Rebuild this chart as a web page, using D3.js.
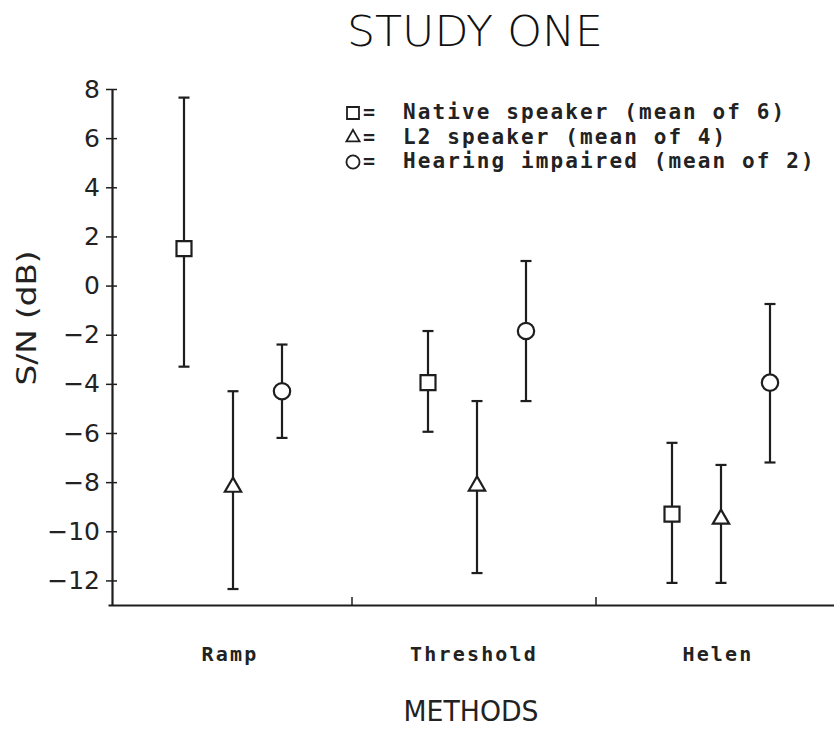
<!DOCTYPE html>
<html>
<head>
<meta charset="utf-8">
<script src="https://cdn.jsdelivr.net/npm/d3@7"></script>
<style>
  body { margin: 0; background: #fff; }
  text { fill: #222; }
</style>
</head>
<body>
<script>
let width = 834;
let height = 729;

// data
let categories = ["Ramp", "Threshold", "Helen"];
let groups = ["native", "l2", "hi"];
let groupLabels = ["Native speaker (mean of 6)", "L2 speaker (mean of 4)", "Hearing impaired (mean of 2)"];
let yTicks = [-12, -10, -8, -6, -4, -2, 0, 2, 4, 6, 8];

let nativeMean = [1.5, -3.95, -9.3];
let nativeLow  = [-3.3, -5.95, -12.1];
let nativeHigh = [7.65, -1.85, -6.4];

let l2Mean = [-8.2, -8.15, -9.5];
let l2Low  = [-12.35, -11.7, -12.1];
let l2High = [-4.3, -4.7, -7.3];

let hiMean = [-4.3, -1.85, -3.95];
let hiLow  = [-6.2, -4.7, -7.2];
let hiHigh = [-2.4, 1.0, -0.75];

let series = [
  {key: "native", mean: nativeMean, low: nativeLow, high: nativeHigh, sym: d3.symbolSquare, size: 225},
  {key: "l2", mean: l2Mean, low: l2Low, high: l2High, sym: d3.symbolTriangle, size: 115},
  {key: "hi", mean: hiMean, low: hiLow, high: hiHigh, sym: d3.symbolCircle, size: 210}
];

let ink = "#1e1e1e";

let svg = d3.select("body").append("svg").attr("width", width).attr("height", height);

let x = d3.scaleBand().domain(categories).range([108, 840]);
let sub = d3.scalePoint().domain(groups).range([-46, 52]);
let y = d3.scaleLinear().domain([-13, 8]).range([605, 89]);

// title
svg.append("text")
  .attr("x", 475).attr("y", 46)
  .attr("text-anchor", "middle")
  .attr("font-family", "DejaVu Sans").attr("font-weight", 300).attr("font-size", 43)
  .attr("textLength", 256).attr("lengthAdjust", "spacingAndGlyphs")
  .style("fill", "#111")
  .text("STUDY ONE");

// y axis
let yAxis = svg.append("g").attr("transform", "translate(112,0)")
  .call(d3.axisLeft(y).tickValues(yTicks).tickSize(6).tickSizeOuter(0).tickPadding(6));
yAxis.selectAll("text").attr("font-family", "DejaVu Sans").attr("font-size", 25).attr("fill", "#222");
yAxis.selectAll("line").attr("stroke", ink).attr("stroke-width", 1.5);
yAxis.select(".domain").attr("stroke", ink).attr("stroke-width", 2.2);

let yAxisR = svg.append("g").attr("transform", "translate(112,0)")
  .call(d3.axisRight(y).tickValues(yTicks).tickSize(5).tickFormat(""));
yAxisR.select(".domain").remove();
yAxisR.selectAll("line").attr("stroke", ink).attr("stroke-width", 1.5);

svg.append("text")
  .attr("transform", "translate(36,318) rotate(-90)")
  .attr("text-anchor", "middle")
  .attr("font-family", "DejaVu Sans").attr("font-size", 27)
  .attr("textLength", 135).attr("lengthAdjust", "spacingAndGlyphs")
  .text("S/N (dB)");

// x axis
let xAxis = svg.append("g").attr("transform", "translate(0,605)")
  .call(d3.axisBottom(x).tickSize(0).tickSizeOuter(0).tickPadding(42));
xAxis.select(".domain").attr("stroke", ink).attr("stroke-width", 2.2);
xAxis.selectAll("text")
  .attr("font-family", "DejaVu Sans Mono").attr("font-weight", "bold")
  .attr("font-size", 20).attr("letter-spacing", 2.2).attr("fill", "#222");

svg.selectAll(".xdiv")
  .data(categories.slice(0, -1))
  .enter().append("line")
  .attr("class", "xdiv")
  .attr("x1", d => x(d) + x.bandwidth()).attr("x2", d => x(d) + x.bandwidth())
  .attr("y1", 605).attr("y2", 597)
  .attr("stroke", ink).attr("stroke-width", 1.5);

svg.append("text")
  .attr("x", 471).attr("y", 721)
  .attr("text-anchor", "middle")
  .attr("font-family", "DejaVu Sans").attr("font-size", 29)
  .attr("textLength", 135).attr("lengthAdjust", "spacingAndGlyphs")
  .text("METHODS");

// error bars and markers
let capW = 11;
series.forEach(s => {
  let pts = categories.map((c, i) => ({
    cx: x(c) + x.bandwidth() / 2 + sub(s.key),
    mean: s.mean[i], low: s.low[i], high: s.high[i]
  }));
  let g = svg.append("g");
  g.selectAll(".bar").data(pts).enter().append("line")
    .attr("x1", d => d.cx).attr("x2", d => d.cx)
    .attr("y1", d => y(d.low)).attr("y2", d => y(d.high))
    .attr("stroke", ink).attr("stroke-width", 2.2);
  ["low", "high"].forEach(k => {
    g.selectAll(".cap-" + k).data(pts).enter().append("line")
      .attr("x1", d => d.cx - capW / 2).attr("x2", d => d.cx + capW / 2)
      .attr("y1", d => y(d[k])).attr("y2", d => y(d[k]))
      .attr("stroke", ink).attr("stroke-width", 2.2);
  });
  g.selectAll(".mark").data(pts).enter().append("path")
    .attr("transform", d => "translate(" + d.cx + "," + y(d.mean) + ")")
    .attr("d", d3.symbol().type(s.sym).size(s.size))
    .attr("fill", "#fff").attr("stroke", ink).attr("stroke-width", 2.2);
});

// legend
let legendSizes = [144, 75, 135];
let legend = svg.append("g").attr("transform", "translate(353,0)");
let rowY = d3.scalePoint().domain(groups).range([113, 162]);
series.forEach((s, i) => {
  let row = legend.append("g").attr("transform", "translate(0," + rowY(s.key) + ")");
  row.append("path")
    .attr("d", d3.symbol().type(s.sym).size(legendSizes[i]))
    .attr("fill", "#fff").attr("stroke", ink).attr("stroke-width", 1.8);
  row.append("text")
    .attr("x", 10).attr("y", 6)
    .attr("font-family", "DejaVu Sans Mono").attr("font-weight", "bold").attr("font-size", 20)
    .text("=");
  row.append("text")
    .attr("x", 50).attr("y", 6)
    .attr("font-family", "DejaVu Sans Mono").attr("font-weight", "bold").attr("font-size", 21)
    .attr("letter-spacing", 2.1)
    .text(groupLabels[i]);
});
</script>
</body>
</html>
